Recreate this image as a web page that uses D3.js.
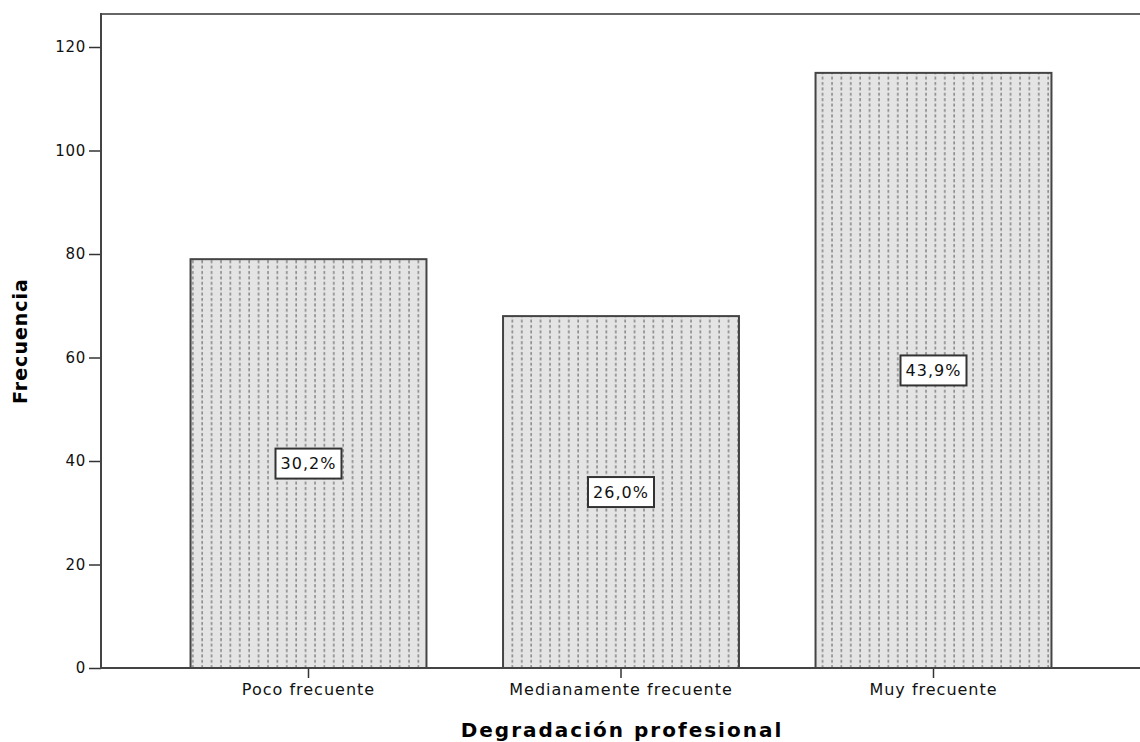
<!DOCTYPE html>
<html>
<head>
<meta charset="utf-8">
<script src="https://cdn.jsdelivr.net/npm/d3@7"></script>
<style>
  body { margin: 0; background: #fff; }
  svg { display: block; font-family: "DejaVu Sans", sans-serif; }
</style>
</head>
<body>
<svg id="chart" width="1140" height="742"></svg>
<script>
var categories = ['Poco frecuente', 'Medianamente frecuente', 'Muy frecuente']
var counts = [79, 68, 115]
var pctLabels = ['30,2%', '26,0%', '43,9%']
var yTicks = [0, 20, 40, 60, 80, 100, 120]

var svg = d3.select('#chart')
var mLeft = 101, mTop = 14, mBottom = 668, mRight = 1141

var x = d3.scaleBand()
  .domain(categories)
  .range([mLeft, mRight])
  .paddingInner(0.245)
  .paddingOuter(0.2865)

var y = d3.scaleLinear()
  .domain([0, 120])
  .range([mBottom, mBottom - 120 * 5.175])

// dotted fill
var pat = svg.append('defs').append('pattern')
  .attr('id', 'dots')
  .attr('patternUnits', 'userSpaceOnUse')
  .attr('width', 9.4)
  .attr('height', 5.4)
pat.append('rect').attr('width', 9.4).attr('height', 5.4).attr('fill', '#e4e4e4')
pat.append('rect').attr('x', 4).attr('y', 1).attr('width', 1.6).attr('height', 3).attr('fill', '#8a8a8a')

// frame top
svg.append('line')
  .attr('x1', mLeft).attr('x2', 1140).attr('y1', mTop).attr('y2', mTop)
  .attr('stroke', '#666').attr('stroke-width', 2)

var bars = svg.append('g')
bars.selectAll('rect').data(categories).join('rect')
  .attr('x', d => x(d))
  .attr('width', x.bandwidth())
  .attr('y', (d, i) => y(counts[i]))
  .attr('height', (d, i) => y(0) - y(counts[i]))
  .attr('fill', 'url(#dots)')
  .attr('stroke', '#444')
  .attr('stroke-width', 2)

// percentage labels
var lab = svg.append('g').selectAll('g').data(categories).join('g')
  .attr('transform', (d, i) => `translate(${x(d) + x.bandwidth() / 2},${y(counts[i] / 2)})`)
lab.append('rect')
  .attr('x', -33).attr('y', -15).attr('width', 66).attr('height', 30)
  .attr('fill', '#fff').attr('stroke', '#333').attr('stroke-width', 2)
lab.append('text')
  .attr('text-anchor', 'middle').attr('dy', '0.36em')
  .attr('font-size', 16).attr('letter-spacing', 1).attr('fill', '#111')
  .text((d, i) => pctLabels[i])

// y axis
var yAxis = svg.append('g')
  .attr('transform', `translate(${mLeft},0)`)
  .call(d3.axisLeft(y).tickValues(yTicks).tickSize(12).tickSizeOuter(0).tickPadding(3))
yAxis.select('.domain').remove()
yAxis.selectAll('.tick line').attr('stroke', '#333').attr('stroke-width', 1.5)
yAxis.selectAll('.tick text').attr('font-size', 15).attr('letter-spacing', 0.7).attr('fill', '#111')
  .attr('font-family', '"DejaVu Sans", sans-serif')
svg.append('line')
  .attr('x1', mLeft).attr('x2', mLeft).attr('y1', mTop - 1).attr('y2', mBottom + 1)
  .attr('stroke', '#444').attr('stroke-width', 2)

// x axis
var xAxis = svg.append('g')
  .attr('transform', `translate(0,${mBottom})`)
  .call(d3.axisBottom(x).tickSize(10).tickSizeOuter(0).tickPadding(6))
xAxis.select('.domain').remove()
xAxis.selectAll('.tick line').attr('stroke', '#333').attr('stroke-width', 1.5)
xAxis.selectAll('.tick text').attr('font-size', 16).attr('letter-spacing', 1).attr('fill', '#111')
  .attr('font-family', '"DejaVu Sans", sans-serif')
svg.append('line')
  .attr('x1', mLeft).attr('x2', 1140).attr('y1', mBottom).attr('y2', mBottom)
  .attr('stroke', '#444').attr('stroke-width', 2)

// titles
svg.append('text')
  .attr('x', 622).attr('y', 737)
  .attr('text-anchor', 'middle')
  .attr('font-size', 20).attr('letter-spacing', 2).attr('font-weight', 'bold').attr('fill', '#000')
  .text('Degradación profesional')

svg.append('text')
  .attr('transform', 'translate(27,341) rotate(-90)')
  .attr('text-anchor', 'middle')
  .attr('font-size', 19).attr('letter-spacing', 1).attr('font-weight', 'bold').attr('fill', '#000')
  .text('Frecuencia')
</script>
</body>
</html>
